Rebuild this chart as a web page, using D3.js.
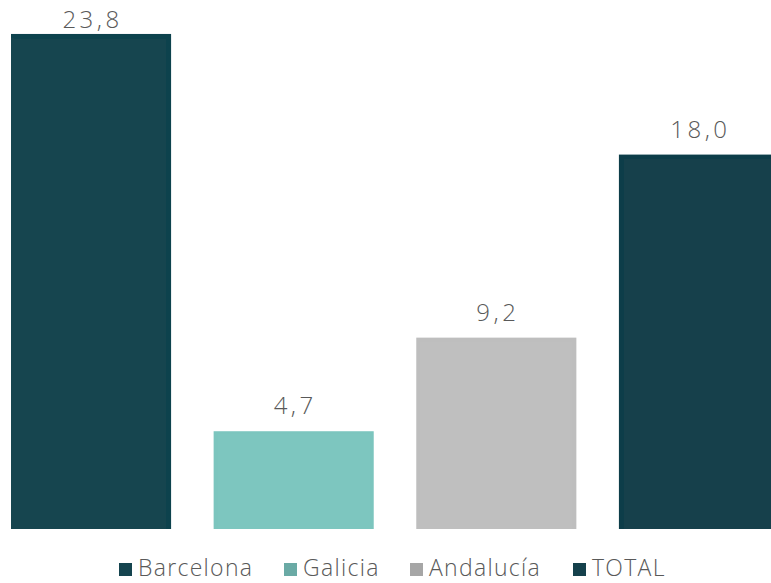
<!DOCTYPE html>
<html>
<head>
<meta charset="utf-8">
<script src="https://cdn.jsdelivr.net/npm/d3@7"></script>
<style>
  body { margin: 0; background: #fff; }
  text { font-family: "Open Sans", sans-serif; font-weight: 300; fill: #595959; }
</style>
</head>
<body>
<svg id="chart" width="771" height="583"></svg>
<script>
// data
let categories = ["Barcelona", "Galicia", "Andalucía", "TOTAL"];
let values = [23.8, 4.7, 9.2, 18.0];
let colors = ["#15444f", "#7dc6bf", "#bfbfbf", "#15414c"];
let swatch_colors = ["#15444f", "#6aaaa5", "#a6a6a6", "#15414c"];

let svg = d3.select("#chart");

let x = d3.scaleBand().domain(categories).range([11, 779]).paddingInner(0.21).paddingOuter(0),
    y = d3.scaleLinear().domain([0, 25]).range([529, 9]);

// soft inner edge like the original
let defs = svg.append("defs");
let f = defs.append("filter").attr("id", "inset").attr("x", 0).attr("y", 0).attr("width", 1).attr("height", 1);
f.append("feFlood").attr("flood-color", "#000").attr("flood-opacity", 0.1).attr("result", "c");
f.append("feComposite").attr("in", "c").attr("in2", "SourceAlpha").attr("operator", "out").attr("result", "inv");
f.append("feGaussianBlur").attr("in", "inv").attr("stdDeviation", 2.5).attr("result", "blur");
f.append("feComposite").attr("in", "blur").attr("in2", "SourceAlpha").attr("operator", "in").attr("result", "sh");
let m = f.append("feMerge");
m.append("feMergeNode").attr("in", "SourceGraphic");
m.append("feMergeNode").attr("in", "sh");

let bars = categories.map((c, i) => ({cat: c, val: values[i], color: colors[i]}));

svg.selectAll("rect.bar")
    .data(bars).enter()
    .append("rect")
    .classed("bar", true)
    .attr("x", (d) => x(d.cat))
    .attr("y", (d) => y(d.val))
    .attr("width", x.bandwidth())
    .attr("height", (d) => y(0) - y(d.val))
    .attr("fill", (d) => d.color)
    .attr("filter", "url(#inset)");

// labels sit ~17px above the bar, but never above the top of the chart
// letter-spacing also pads the last glyph, so nudge right by half of it
svg.selectAll("text.bar-label")
    .data(bars).enter()
    .append("text")
    .classed("bar-label", true)
    .attr("x", (d) => x(d.cat) + x.bandwidth() / 2 + 1.5)
    .attr("y", (d) => Math.max(y(d.val) - 17, 28))
    .attr("text-anchor", "middle")
    .style("font-size", "24px")
    .style("letter-spacing", "3.5px")
    .text((d) => d.val.toFixed(1).replace(".", ","));

// legend
let legend_x = [119, 284, 410, 573];
let lg = svg.selectAll("g.legend")
    .data(bars).enter()
    .append("g")
    .classed("legend", true)
    .attr("transform", (d, i) => "translate(" + legend_x[i] + ",570)");

lg.append("rect")
    .attr("x", 0).attr("y", -7)
    .attr("width", 13).attr("height", 13)
    .attr("fill", (d, i) => swatch_colors[i]);

lg.append("text")
    .attr("x", 19).attr("y", 6)
    .style("font-size", "23px")
    .style("letter-spacing", "1.3px")
    .text((d) => d.cat);
</script>
</body>
</html>
